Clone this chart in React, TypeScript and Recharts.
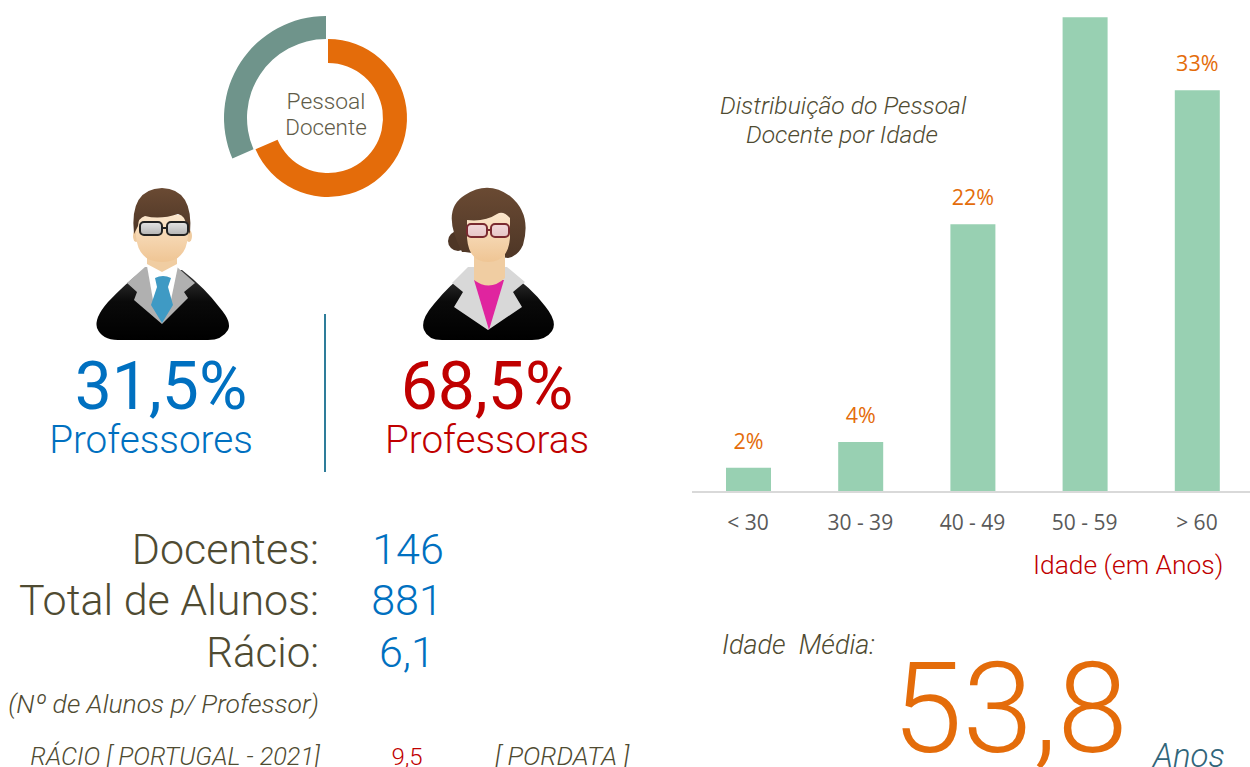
import { BarChart, Bar, XAxis, YAxis, LabelList, PieChart, Pie, Cell } from "recharts";

const ageGroups = ["< 30", "30 - 39", "40 - 49", "50 - 59", "> 60"];
const agePercents = [2, 4.1, 22, 39, 33];

const genderNames = ["Professoras", "Professores"];
const genderPercents = [68.5, 31.5];

const ORANGE = "#E46C0A";
const TEAL = "#6F948B";
const GREEN = "#98D0B2";
const BLUE = "#0070C0";
const RED = "#C00000";
const OLIVE = "#4F4B32";

const ageData = ageGroups.map((name, i) => ({ name, value: agePercents[i] }));
const genderData = genderNames.map((name, i) => ({ name, value: genderPercents[i] }));

const Label = ({ x, y, size, color = OLIVE, anchor = "start", italic = false, weight = 300, font = "Roboto", children }: any) => (
  <text
    x={x}
    y={y}
    fontSize={size}
    fill={color}
    textAnchor={anchor}
    fontStyle={italic ? "italic" : "normal"}
    fontWeight={weight}
    fontFamily={font}
  >
    {children}
  </text>
);

const Defs = () => (
  <defs>
    <linearGradient id="skin" x1="0" y1="0" x2="0" y2="1">
      <stop offset="0" stopColor="#FBE6CC" />
      <stop offset="1" stopColor="#EFC594" />
    </linearGradient>
    <linearGradient id="suit" x1="0" y1="0" x2="0" y2="1">
      <stop offset="0" stopColor="#3A3A3A" />
      <stop offset="0.45" stopColor="#0A0A0A" />
      <stop offset="1" stopColor="#000000" />
    </linearGradient>
    <linearGradient id="lens" x1="0" y1="0" x2="0" y2="1">
      <stop offset="0" stopColor="#E4E4E4" />
      <stop offset="1" stopColor="#B4B4B4" />
    </linearGradient>
    <linearGradient id="lensPink" x1="0" y1="0" x2="0" y2="1">
      <stop offset="0" stopColor="#F2D8DA" />
      <stop offset="1" stopColor="#E6C6C6" />
    </linearGradient>
    <linearGradient id="hair" x1="0" y1="0" x2="0" y2="1">
      <stop offset="0" stopColor="#6A4A33" />
      <stop offset="1" stopColor="#4E3626" />
    </linearGradient>
  </defs>
);

const ManIcon = () => (
  <g>
    <path d="M143 270 L182 270 Q205 288 220 308 Q232 322 228 330 Q222 340 208 340 L118 340 Q102 340 97 328 Q94 318 108 302 Q125 284 143 270Z" fill="url(#suit)" />
    <polygon points="145,267 127,283 137,292 134,300 162,324 188,298 184,292 195,283 177,267" fill="#B0B0B0" />
    <polygon points="147,266 178,266 171,300 162,322 153,300" fill="#FFFFFF" />
    <ellipse cx="136" cy="236" rx="3" ry="6" fill="#EFCBA0" />
    <ellipse cx="189" cy="236" rx="3" ry="6" fill="#EFCBA0" />
    <path d="M147 245 L177 245 L177 264 L162 272 L147 264Z" fill="#F0CDA2" />
    <path d="M136 215 L188 215 L188 236 Q186 262 162 262 Q138 262 136 236Z" fill="url(#skin)" />
    <path d="M134 234 Q129 189 162 188 Q194 189 190 234 L186 226 Q186 216 178 214 Q160 220 145 216 Q138 218 138 226Z" fill="url(#hair)" />
    <path d="M155 278 Q163 274 171 278 L168 287 L173 305 L162 323 L151 305 L157 287Z" fill="#3F9AC4" />
    <rect x="140" y="222" width="22" height="13" rx="4" fill="url(#lens)" stroke="#222" strokeWidth="2" />
    <rect x="167" y="222" width="21" height="13" rx="4" fill="url(#lens)" stroke="#222" strokeWidth="2" />
    <line x1="162" y1="228" x2="167" y2="228" stroke="#222" strokeWidth="2" />
  </g>
);

const WomanIcon = () => (
  <g>
    <circle cx="458" cy="241" r="10" fill="#4E3626" />
    <path d="M462 252 Q440 210 465 195 Q488 180 510 196 Q532 214 523 245 Q518 256 508 258 L465 252Z" fill="url(#hair)" />
    <path d="M470 270 L505 270 Q530 286 545 306 Q558 322 552 331 Q546 340 532 340 L442 340 Q428 340 424 330 Q420 320 434 304 Q450 284 470 270Z" fill="url(#suit)" />
    <polygon points="468,267 452,283 463,292 454,307 488,330 522,307 513,292 525,282 507,267" fill="#D8D8D8" />
    <polygon points="474,280 504,280 489,330" fill="#E0249F" />
    <path d="M474 246 L505 246 L505 278 Q490 292 474 280Z" fill="#F0CDA2" />
    <path d="M467 220 Q485 222 497 214 Q503 210 510 218 L510 238 Q508 262 488 262 Q469 262 467 238Z" fill="url(#skin)" />
    <rect x="467" y="224" width="20" height="13" rx="4" fill="url(#lensPink)" stroke="#7A2A30" strokeWidth="2" />
    <rect x="491" y="224" width="18" height="13" rx="4" fill="url(#lensPink)" stroke="#7A2A30" strokeWidth="2" />
    <line x1="487" y1="230" x2="491" y2="230" stroke="#7A2A30" strokeWidth="2" />
  </g>
);

export default function App() {
  return (
    <div style={{ position: "absolute", left: 0, top: 0, width: 1250, height: 767, overflow: "hidden", background: "#fff" }}>
      <div style={{ position: "absolute", left: 0, top: 0 }}>
        <PieChart width={660} height={230} margin={{ top: 0, right: 0, bottom: 0, left: 0 }}>
          <Pie
            data={genderData}
            dataKey="value"
            cx={328}
            cy={118}
            innerRadius={55}
            outerRadius={79}
            startAngle={90}
            endAngle={-270}
            stroke="none"
            isAnimationActive={false}
          >
            <Cell fill={ORANGE} />
            <Cell fill="none" />
          </Pie>
          <Pie
            data={genderData}
            dataKey="value"
            cx={326}
            cy={118}
            innerRadius={79}
            outerRadius={102}
            startAngle={90}
            endAngle={-270}
            stroke="none"
            isAnimationActive={false}
          >
            <Cell fill="none" />
            <Cell fill={TEAL} />
          </Pie>
        </PieChart>
      </div>

      <div style={{ position: "absolute", left: 692, top: 0 }}>
        <BarChart
          width={561}
          height={540}
          data={ageData}
          margin={{ top: 5, right: 0, bottom: 18, left: 0 }}
        >
          <XAxis
            dataKey="name"
            axisLine={{ stroke: "#D9D9D9", strokeWidth: 2 }}
            tickLine={false}
            tickMargin={17}
            tick={{ fontSize: 21, fill: "#595959", fontFamily: "Open Sans" }}
            interval={0}
          />
          <YAxis hide domain={[0, 40]} />
          <Bar dataKey="value" fill={GREEN} barSize={45} isAnimationActive={false}>
            <LabelList
              dataKey="value"
              position="top"
              offset={19}
              formatter={(v: any) => `${Math.round(v)}%`}
              style={{ fontSize: 21.5, fill: ORANGE, fontFamily: "Open Sans" }}
            />
          </Bar>
        </BarChart>
      </div>

      <svg width={1250} height={767} style={{ position: "absolute", left: 0, top: 0 }}>
        <Defs />
        <ManIcon />
        <WomanIcon />
        <line x1={325} y1={314} x2={325} y2={472} stroke="#2E7D9A" strokeWidth={2} />

        <Label x={326} y={109} size={22.8} color="#5F5B48" anchor="middle">Pessoal</Label>
        <Label x={326} y={135} size={22.4} color="#5F5B48" anchor="middle">Docente</Label>

        <Label x={161} y={409} size={66} color={BLUE} anchor="middle" weight={400}>31,5%</Label>
        <Label x={151} y={453} size={38.7} color={BLUE} anchor="middle">Professores</Label>
        <Label x={487} y={409} size={66} color={RED} anchor="middle" weight={400}>68,5%</Label>
        <Label x={487} y={453} size={38.7} color={RED} anchor="middle">Professoras</Label>

        <Label x={319} y={564} size={43} anchor="end">Docentes:</Label>
        <Label x={319} y={615} size={43} anchor="end">Total de Alunos:</Label>
        <Label x={319} y={667} size={42} anchor="end">Rácio:</Label>
        <Label x={408} y={564} size={43} color={BLUE} anchor="middle">146</Label>
        <Label x={407} y={615} size={43} color={BLUE} anchor="middle">881</Label>
        <Label x={407} y={667} size={43} color={BLUE} anchor="middle">6,1</Label>

        <Label x={319} y={713} size={26.5} anchor="end" italic>(Nº de Alunos p/ Professor)</Label>
        <Label x={320} y={765} size={25.3} anchor="end" italic>RÁCIO [ PORTUGAL - 2021]</Label>
        <Label x={407} y={765} size={24} color={RED} anchor="middle">9,5</Label>
        <Label x={495} y={765} size={26.2} italic>[ PORDATA ]</Label>

        <Label x={720} y={114} size={24.7} italic>Distribuição do Pessoal</Label>
        <Label x={746} y={143} size={24.7} italic>Docente por Idade</Label>
        <Label x={1033} y={574} size={26.4} color={RED}>Idade (em Anos)</Label>

        <Label x={722} y={654} size={27} italic>{"Idade\u00A0\u00A0Média:"}</Label>
        <Label x={892} y={752} size={127} color={ORANGE}>53,8</Label>
        <Label x={1153} y={767} size={33} color="#31657A" italic>Anos</Label>
      </svg>
    </div>
  );
}
